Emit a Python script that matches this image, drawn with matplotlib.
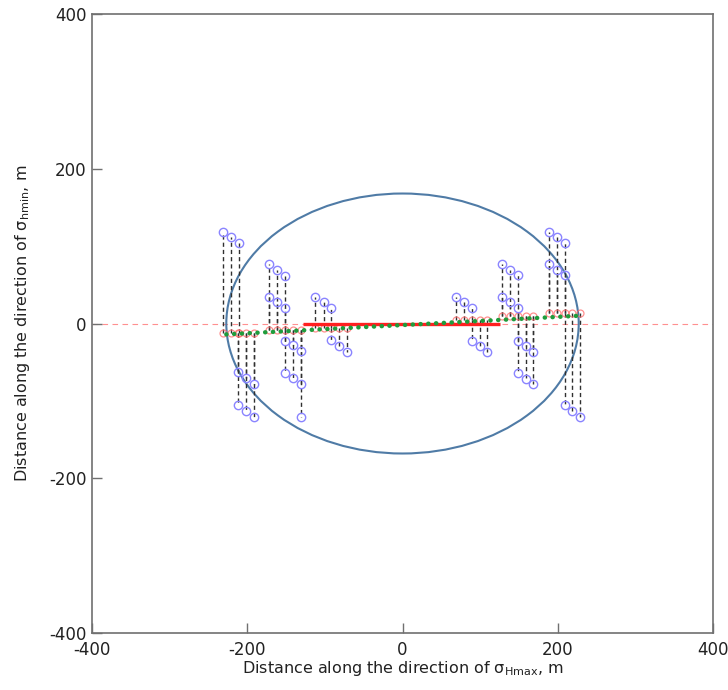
import matplotlib
matplotlib.use("Agg")
import matplotlib.pyplot as plt
from matplotlib.patches import Ellipse

plt.rcParams["font.family"] = ["DejaVu Sans"]
plt.rcParams["axes.unicode_minus"] = False

# Stimulated-volume ellipse (m)
srv_center = (0.0, 0.0)
srv_half_x = 227.0
srv_half_y = 168.0

# Horizontal well section and trend through the fracture roots
well_x = [-128.0, 126.0]
well_y = [0.0, 0.0]
trend_x = [-227.0, 227.0]
trend_y = [-14.0, 10.0]

# Root elevation of the fracture wings in each stage
stage_root_y = [-12.0, -8.0, -6.0, 5.0, 10.0, 14.0]

# Upper wings: x position and tip y for each stage
stage_upper_x = [
    [-231.1, -220.7, -210.4],
    [-172.3, -161.5, -151.7, -172.3, -161.5, -151.7],
    [-112.1, -101.4, -91.5],
    [68.3, 79.0, 88.9],
    [128.5, 138.8, 148.8, 128.5, 138.8, 148.8],
    [188.1, 198.5, 208.8, 188.1, 198.5, 208.8],
]
stage_upper_tip = [
    [118.9, 112.4, 104.3],
    [77.1, 69.4, 62.0, 34.0, 27.5, 20.3],
    [34.0, 27.5, 19.8],
    [34.0, 27.5, 19.8],
    [77.1, 69.4, 62.9, 34.0, 27.5, 20.0],
    [118.9, 112.4, 104.3, 77.1, 69.4, 62.9],
]

# Lower wings: x position and tip y for each stage
stage_lower_x = [
    [-211.3, -201.4, -191.6, -211.3, -201.4, -191.6],
    [-151.7, -141.4, -131.4, -151.7, -141.4, -131.4, -131.4],
    [-91.5, -81.2, -71.3],
    [88.9, 99.2, 109.1],
    [148.8, 158.5, 168.4, 148.8, 158.5, 168.4],
    [208.8, 218.7, 228.5],
]
stage_lower_tip = [
    [-104.7, -113.3, -121.1, -63.3, -70.7, -77.9],
    [-22.0, -28.4, -35.8, -63.7, -70.7, -77.9, -121.1],
    [-21.1, -29.7, -37.1],
    [-22.0, -29.7, -36.8],
    [-22.0, -29.0, -36.6, -64.0, -71.4, -78.8],
    [-105.3, -113.3, -121.1],
]

x_ticks = [-400, -200, 0, 200, 400]
y_ticks = [-400, -200, 0, 200, 400]

fig = plt.figure(figsize=(7.28, 6.90), dpi=100)
ax = fig.add_axes([0.1264, 0.0826, 0.853, 0.8971])

wing_style = dict(color="#303030", lw=1.0, ls=(0, (3, 2.2)), zorder=3)
tip_style = dict(ls="none", marker="o", ms=6, mfc="none", mec="#8a84ff",
                 mew=1.0, zorder=5)
root_style = dict(ls="none", marker="o", ms=5, mfc="none", mec="#ff6a6a",
                  mew=0.9, alpha=0.75, zorder=4)

ax.axhline(0, color="#ff9090", lw=0.8, ls=(0, (5, 4)), zorder=1)

ax.add_patch(Ellipse(srv_center, 2 * srv_half_x, 2 * srv_half_y,
                     fill=False, ec="#4f7ba6", lw=1.5, zorder=2))

for root, ux, ut, lx, lt in zip(stage_root_y, stage_upper_x, stage_upper_tip,
                                stage_lower_x, stage_lower_tip):
    for x, t in zip(ux, ut):
        ax.plot([x, x], [root, t], **wing_style)
    for x, t in zip(lx, lt):
        ax.plot([x, x], [root, t], **wing_style)
    ax.plot(ux, ut, **tip_style)
    ax.plot(lx, lt, **tip_style)
    roots_x = sorted(set(ux) | set(lx))
    ax.plot(roots_x, [root] * len(roots_x), **root_style)

ax.plot(well_x, well_y, color="#ff2020", lw=2.4, solid_capstyle="butt", zorder=6)
ax.plot(trend_x, trend_y, color="#1f9c3c", lw=3.2, ls=(0, (0.05, 1.7)),
        dash_capstyle="round", zorder=7)

ax.set_xlim(-400, 400)
ax.set_ylim(-400, 400)
ax.set_xticks(x_ticks)
ax.set_yticks(y_ticks)
ax.tick_params(direction="in", length=7, width=1, color="#707070",
               labelsize=12, labelcolor="#222222")
ax.tick_params(axis="x", pad=6)
ax.tick_params(axis="y", pad=4)
for sp in ax.spines.values():
    sp.set_color("#707070")
    sp.set_linewidth(1.2)

ax.set_xlabel("Distance along the direction of σ$_{\\mathregular{Hmax}}$, m",
              fontsize=11.5, color="#222222", labelpad=0)
ax.set_ylabel("Distance along the direction of σ$_{\\mathregular{hmin}}$, m",
              fontsize=11.5, color="#222222", labelpad=12)

fig.savefig("out.png", dpi=100)
